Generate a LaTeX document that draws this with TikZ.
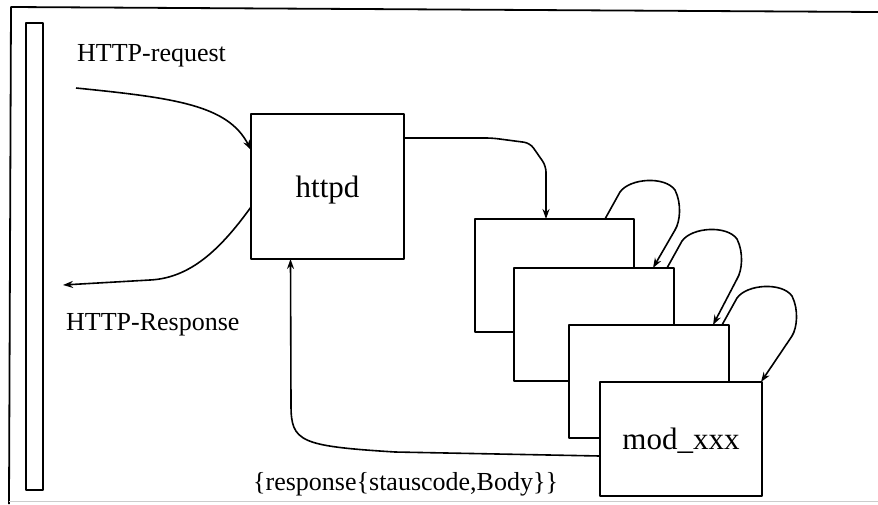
\documentclass[tikz,border=0pt]{standalone}
\usepackage{fontspec}
\setmainfont{Liberation Serif}
\usetikzlibrary{arrows.meta,calc}
\newcommand\modloop[2]{%
  \draw[arr] (#1) -- ($(#1)+(15,-27)$)
    .. controls ($(#1)+(25,-41)$) and ($(#1)+(60,-43)$) .. ($(#1)+(70,-29)$)
    .. controls ($(#1)+(77,-15)$) and ($(#1)+(75,3)$) .. ($(#1)+(70,11)$)
    -- (#2);}
\begin{document}
\begin{tikzpicture}[x=1pt,y=-1pt,
  line join=round,
  box/.style={draw,fill=white,line width=1.8pt,rectangle,outer sep=0pt,inner sep=0pt,anchor=north west},
  arr/.style={line width=1.6pt,-{Stealth[length=10pt,width=7pt]}},
  lbl/.style={inner sep=0pt,font=\fontsize{26}{30}\selectfont},
  big/.style={font=\fontsize{31}{36}\selectfont,text depth=0pt}]
\useasboundingbox (0,0) rectangle (878,504);
% outer frame
\draw[line width=1.8pt] (878,12) -- (11,7) -- (9,504);
\draw[gray!40,line width=1pt] (9,501) -- (878,501);
% vertical bar
\draw[line width=1.8pt] (26,23) rectangle (43,490);
% boxes
\node[box,big,minimum width=153pt,minimum height=145pt] (httpd) at (251,114) {httpd};
\node[box,minimum width=159pt,minimum height=113pt] (m1) at (475,219) {};
\node[box,minimum width=160pt,minimum height=113pt] (m2) at (514,268) {};
\node[box,minimum width=160pt,minimum height=113pt] (m3) at (569,325) {};
\node[box,big,minimum width=162pt,minimum height=114pt] (m4) at (600,382) {mod\_xxx};
% labels
\node[lbl,anchor=base west] (req) at (77,61) {HTTP-request};
\node[lbl,anchor=base west] (resp) at (66,330) {HTTP-Response};
\node[lbl,anchor=base west] (ret) at (253,490) {\{response\{stauscode,Body\}\}};
% connectors
\coordinate (reqstart) at (76,88);
\coordinate (respend) at (63,285);
\draw[arr] (reqstart) .. controls (175,98) and (228,105) .. ([yshift=-36pt]httpd.north west);
\draw[arr] ([yshift=-93pt]httpd.north west) .. controls (220,250) and (190,278) .. (150,280) -- (respend);
\draw[arr,rounded corners=6pt] ([yshift=-24pt]httpd.north east) -- (492,138) -- (530,143) -- (546,166) -- ([xshift=71pt]m1.north west);
\draw[arr] ([yshift=-74pt]m4.north west) -- (395,452) .. controls (300,446) and (291,442) .. (291,405) -- ([xshift=-37pt]httpd.south);
% self loops
\coordinate (s1) at ([xshift=-29pt]m1.north east);
\coordinate (s2) at ([xshift=-7pt]m2.north east);
\coordinate (s3) at ([xshift=-7pt]m3.north east);
\coordinate (t1) at ([xshift=139pt]m2.north west);
\coordinate (t2) at ([xshift=144pt]m3.north west);
\coordinate (t3) at ([xshift=-1pt]m4.north east);
\modloop{s1}{t1}
\modloop{s2}{t2}
\modloop{s3}{t3}
\end{tikzpicture}
\end{document}
